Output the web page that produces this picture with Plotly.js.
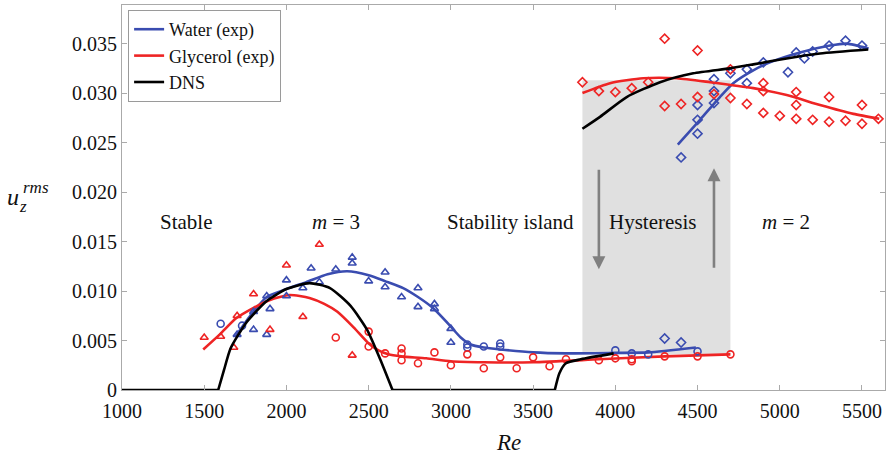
<!DOCTYPE html>
<html>
<head>
<meta charset="utf-8">
<script src="https://cdn.plot.ly/plotly-3.0.1.min.js"></script>
<style>html,body{margin:0;padding:0;background:#fff}#chart{width:887px;height:459px}</style>
</head>
<body>
<div id="chart"></div>
<script>
// ---------- data ----------
const waterTriRe = [1700,1800,1800,1880,1880,1900,2000,2000,2100,2150,2200,2300,2400,2400,2500,2600,2600,2700,2800,2800,2900,2900,3000,3000];
const waterTriU  = [0.0056,0.0061,0.0079,0.0056,0.0095,0.0082,0.0111,0.0095,0.0103,0.0123,0.0109,0.0122,0.0134,0.0128,0.0110,0.0104,0.0119,0.0094,0.0084,0.0103,0.0087,0.0082,0.0062,0.0048];
const waterCircRe = [1600,1730,3100,3100,3200,3300,3300,4000,4100,4200,4500];
const waterCircU  = [0.0067,0.0065,0.0046,0.0043,0.0044,0.0047,0.0044,0.0040,0.0037,0.0036,0.0039];
const waterDiaRe = [4300,4400,4400,4500,4500,4500,4600,4600,4600,4700,4800,4800,4900,5050,5100,5150,5200,5300,5400,5500];
const waterDiaU  = [0.0052,0.0048,0.0235,0.0259,0.0288,0.0273,0.0314,0.0302,0.0290,0.0320,0.0310,0.0324,0.0331,0.0321,0.0341,0.0335,0.0342,0.0348,0.0353,0.0348];

const glycTriRe = [1500,1600,1700,1680,1800,1900,2000,2100,2200,2400];
const glycTriU  = [0.0053,0.0054,0.0075,0.0043,0.0097,0.0061,0.0126,0.0074,0.0147,0.0035];
const glycCircRe = [2300,2500,2500,2600,2700,2700,2700,2800,2900,3000,3100,3200,3300,3400,3500,3600,3700,3900,4000,4100,4100,4300,4500,4700];
const glycCircU  = [0.0053,0.0059,0.0044,0.0037,0.0042,0.0037,0.0030,0.0027,0.0038,0.0025,0.0036,0.0022,0.0033,0.0022,0.0033,0.0024,0.0031,0.0030,0.0032,0.0031,0.0029,0.0034,0.0034,0.0036];
const glycDiaRe = [3800,3900,4000,4100,4200,4300,4300,4400,4500,4500,4600,4700,4700,4800,4900,4900,4900,5000,5100,5100,5100,5200,5300,5300,5400,5500,5500,5600];
const glycDiaU  = [0.0311,0.0302,0.0301,0.0305,0.0311,0.0355,0.0287,0.0289,0.0343,0.0296,0.0299,0.0295,0.0324,0.0289,0.0310,0.0302,0.0280,0.0277,0.0301,0.0288,0.0274,0.0273,0.0296,0.0271,0.0272,0.0288,0.0269,0.0274];

// fitted curves
const waterFitLowRe = [1690,1780,1880,2000,2120,2250,2370,2500,2600,2710,2800,2890,3000,3060,3120,3200,3300,3500,3700,4000,4200,4490];
const waterFitLowU  = [0.0054,0.0075,0.0094,0.0102,0.0109,0.0117,0.0120,0.0116,0.0110,0.0103,0.0094,0.0083,0.0064,0.0053,0.0046,0.0043,0.0041,0.0038,0.0037,0.00375,0.0038,0.0043];
const waterFitHighRe = [4380,4515,4636,4717,4839,4940,5123,5306,5407,5540];
const waterFitHighU  = [0.0248,0.0273,0.0296,0.0310,0.0323,0.0331,0.0341,0.0348,0.0350,0.0345];
const glycFitLowRe = [1494,1600,1690,1800,1900,2020,2140,2230,2310,2410,2500,2560,2620,2700,2850,3000,3200,3500,3900,4300,4700];
const glycFitLowU  = [0.0041,0.0057,0.0072,0.0083,0.0091,0.0096,0.0093,0.0087,0.0079,0.0063,0.0047,0.0040,0.0036,0.0034,0.0032,0.0029,0.0028,0.0028,0.0031,0.0034,0.0036];
const glycFitHighRe = [3800,3968,4170,4373,4576,4839,5042,5245,5448,5605];
const glycFitHighU  = [0.0300,0.0310,0.0315,0.0315,0.0311,0.0305,0.0298,0.0288,0.0279,0.0274];

const dnsFlatRe = [1000,1585,null,2645,3632];
const dnsFlatU  = [0,0,null,0,0];
const dnsArchRe = [1585,1620,1660,1760,1880,2000,2140,2265,2390,2490,2570,2645];
const dnsArchU  = [0,0.0020,0.0042,0.0069,0.0090,0.0102,0.0108,0.0103,0.0085,0.0061,0.0031,0];
const dnsLowRe = [3632,3660,3700,3790,3990];
const dnsLowU  = [0,0.0017,0.0027,0.0031,0.0037];
const dnsHighRe = [3800,3907,4069,4272,4474,4697,4839,5042,5245,5538];
const dnsHighU  = [0.0264,0.0276,0.0296,0.0311,0.0320,0.0325,0.0329,0.0335,0.0340,0.0344];

const hystRe = [3800,4700];
const hystU  = [0.0036,0.0313];

const xTicks = [1000,1500,2000,2500,3000,3500,4000,4500,5000,5500];
const yTicks = [0,0.005,0.010,0.015,0.020,0.025,0.030,0.035];
const yTickText = ['0','0.005','0.010','0.015','0.020','0.025','0.030','0.035'];

const regionLabels = ['Stable','<i>m</i> = 3','Stability island','Hysteresis','<i>m</i> = 2'];
const regionRe = [1392,2301,3360,4232,5038];
const regionU = 0.0170;

// ---------- style ----------
const BLUE = '#3a4cb0';
const RED = '#ee2424';
const SERIF = '"Liberation Serif", "Times New Roman", serif';
const LW = 2.6;

function markers(x, y, sym, col) {
  return {x, y, type:'scatter', mode:'markers', showlegend:false, hoverinfo:'skip',
    marker:{symbol:sym, size:7, color:col, line:{color:col, width:1.6}}};
}
function line(x, y, col, name, show, shape) {
  return {x, y, type:'scatter', mode:'lines', name:name, showlegend:show, hoverinfo:'skip',
    connectgaps:false, line:{color:col, width:LW, shape:shape||'spline', smoothing:0.6}};
}

const traces = [
  line(waterFitLowRe, waterFitLowU, BLUE, 'Water (exp)', true),
  line(glycFitLowRe, glycFitLowU, RED, 'Glycerol (exp)', true),
  line(dnsFlatRe, dnsFlatU, '#000', 'DNS', true, 'linear'),
  markers(waterTriRe, waterTriU, 'triangle-up-open', BLUE),
  markers(waterCircRe, waterCircU, 'circle-open', BLUE),
  markers(waterDiaRe, waterDiaU, 'diamond-open', BLUE),
  markers(glycTriRe, glycTriU, 'triangle-up-open', RED),
  markers(glycCircRe, glycCircU, 'circle-open', RED),
  markers(glycDiaRe, glycDiaU, 'diamond-open', RED),
  line(waterFitHighRe, waterFitHighU, BLUE, 'Water (exp)', false),
  line(glycFitHighRe, glycFitHighU, RED, 'Glycerol (exp)', false),
  line(dnsArchRe, dnsArchU, '#000', 'DNS', false),
  line(dnsLowRe, dnsLowU, '#000', 'DNS', false),
  line(dnsHighRe, dnsHighU, '#000', 'DNS', false)
];

const annotations = regionLabels.map((t,i) => ({
  x: regionRe[i], y: regionU, xref:'x', yref:'y', text:t, showarrow:false,
  font:{family:SERIF, size:21, color:'#111'}
}));
// arrows
annotations.push({x:3900, y:0.0122, ax:3900, ay:0.0224, xref:'x', yref:'y', axref:'x', ayref:'y',
  text:'', showarrow:true, arrowhead:2, arrowsize:1, arrowwidth:2.6, arrowcolor:'#808080'});
annotations.push({x:4600, y:0.0224, ax:4600, ay:0.0122, xref:'x', yref:'y', axref:'x', ayref:'y',
  text:'', showarrow:true, arrowhead:2, arrowsize:1, arrowwidth:2.6, arrowcolor:'#808080'});
// axis titles
annotations.push({x:(508-122)/763, y:(390.5-443)/385.5, xref:'paper', yref:'paper', text:'<i>Re</i>',
  showarrow:false, font:{family:SERIF, size:23, color:'#111'}, xanchor:'center', yanchor:'middle'});
annotations.push({x:(13-122)/763, y:(390.5-197)/385.5, xref:'paper', yref:'paper', text:'<i>u</i>',
  showarrow:false, font:{family:SERIF, size:24, color:'#111'}, xanchor:'center', yanchor:'middle'});
annotations.push({x:(21-122)/763, y:(390.5-188)/385.5, xref:'paper', yref:'paper', text:'<i>rms</i>',
  showarrow:false, font:{family:SERIF, size:17, color:'#111'}, xanchor:'left', yanchor:'middle'});
annotations.push({x:(17-122)/763, y:(390.5-207)/385.5, xref:'paper', yref:'paper', text:'<i>z</i>',
  showarrow:false, font:{family:SERIF, size:17, color:'#111'}, xanchor:'left', yanchor:'middle'});

const layout = {
  width:887, height:459,
  margin:{l:122, r:2, t:5, b:69},
  paper_bgcolor:'#fff', plot_bgcolor:'#fff',
  showlegend:true,
  legend:{x:0.008, y:0.987, xanchor:'left', yanchor:'top', bgcolor:'#fff',
    bordercolor:'#9a9a9a', borderwidth:1, font:{family:SERIF, size:18, color:'#111'},
    tracegroupgap:0, itemwidth:30},
  xaxis:{range:[1000,5640], tickvals:xTicks, ticks:'inside', ticklen:5, tickcolor:'#aaa',
    showline:true, linecolor:'#aaa', linewidth:1, mirror:'ticks', showgrid:false, zeroline:false,
    ticklabelstandoff:3,
    tickfont:{family:SERIF, size:20, color:'#111'}},
  yaxis:{range:[0,0.0389], tickvals:yTicks, ticktext:yTickText, ticks:'inside', ticklen:5, tickcolor:'#aaa',
    showline:true, linecolor:'#aaa', linewidth:1, mirror:'ticks', showgrid:false, zeroline:false,
    tickfont:{family:SERIF, size:20, color:'#111'}},
  shapes:[{type:'rect', xref:'x', yref:'y', x0:hystRe[0], x1:hystRe[1], y0:hystU[0], y1:hystU[1],
    fillcolor:'#e0e0e0', line:{width:0}, layer:'below'}],
  annotations
};

Plotly.newPlot('chart', traces, layout, {staticPlot:true, displayModeBar:false});
</script>
</body>
</html>
